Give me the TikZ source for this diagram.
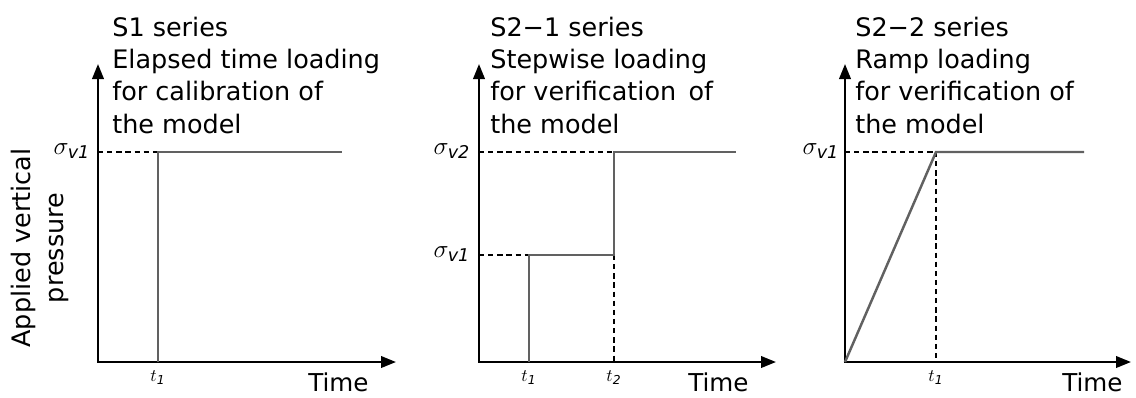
\documentclass[tikz,border=0pt]{standalone}
\usepackage{fontspec}
\setmainfont{DejaVu Sans}
\usetikzlibrary{arrows.meta}

\begin{document}
\begin{tikzpicture}[
    x=0.02cm, y=-0.02cm,
    axis/.style={
        {Triangle[length=3mm,width=2.3mm]}-{Triangle[length=3mm,width=2.3mm]},
        line width=1.3pt
    },
    load/.style={
        line width=1.4pt,
        draw=black!62
    },
    guide/.style={
        line width=1pt,
        dash pattern=on 3pt off 2.2pt
    },
    title/.style={
        anchor=base west,
        inner sep=0pt,
        align=left,
        font=\fontsize{14.5}{18.4}\selectfont
    },
    tick/.style={
        inner sep=0pt,
        font=\normalsize
    },
    level/.style={
        inner sep=0pt,
        font=\Large
    },
    time/.style={
        anchor=base west,
        inner sep=0pt,
        font=\fontsize{14}{16}\selectfont
    }
]

\useasboundingbox (0,0) rectangle (1136,397);

% Panel 1: S1 series
\coordinate (o1) at (98,362);
\coordinate (ytop1) at (98,64);
\coordinate (xend1) at (396,362);
\coordinate (a1) at (158,362);
\coordinate (b1) at (158,152);
\coordinate (c1) at (342,152);
\coordinate (d1) at (98,152);

\draw[axis] (ytop1) -- (o1) -- (xend1);
\draw[guide] (d1) -- (b1);
\draw[load] (a1) -- (b1) -- (c1);

\node[title] (head1) at (112,133) {S1 series\\Elapsed time loading\\for calibration of\\the model};
\node[level] (sig1) at (72,151) {$\sigma_{\mathit{v1}}$};
\node[tick] (t1) at (158,378) {$t_{\mathit{1}}$};
\node[time] (time1) at (308,391) {Time};
\node[rotate=90, align=center, inner sep=0pt,
      font=\fontsize{14.5}{19}\selectfont] (ylabel) at (40,248) {Applied vertical\\pressure};

% Panel 2: S2-1 series
\coordinate (o2) at (479,362);
\coordinate (ytop2) at (479,64);
\coordinate (xend2) at (776,362);
\coordinate (a2) at (529,362);
\coordinate (b2) at (529,255);
\coordinate (c2) at (614,255);
\coordinate (e2) at (614,152);
\coordinate (f2) at (736,152);
\coordinate (g2) at (614,362);
\coordinate (d2) at (479,255);
\coordinate (h2) at (479,152);

\draw[axis] (ytop2) -- (o2) -- (xend2);
\draw[guide] (d2) -- (b2);
\draw[guide] (h2) -- (e2);
\draw[guide] (c2) -- (g2);
\draw[load] (a2) -- (b2) -- (c2) -- (e2) -- (f2);

\node[title] (head2) at (490,133) {S2−1 series\\Stepwise loading\\for verification\ \,of\\the model};
\node[level] (sig2a) at (452,254) {$\sigma_{\mathit{v1}}$};
\node[level] (sig2b) at (452,151) {$\sigma_{\mathit{v2}}$};
\node[tick] (t2a) at (529,378) {$t_{\mathit{1}}$};
\node[tick] (t2b) at (614,378) {$t_{\mathit{2}}$};
\node[time] (time2) at (688,391) {Time};

% Panel 3: S2-2 series
\coordinate (o3) at (845,362);
\coordinate (ytop3) at (845,64);
\coordinate (xend3) at (1131,362);
\coordinate (b3) at (936,152);
\coordinate (c3) at (1084,152);
\coordinate (g3) at (936,362);
\coordinate (d3) at (845,152);

\draw[axis] (ytop3) -- (o3) -- (xend3);
\draw[guide] (d3) -- (b3);
\draw[guide] (b3) -- (g3);
\draw[load] (o3) -- (b3) -- (c3);

\node[title] (head3) at (855,133) {S2−2 series\\Ramp loading\\for verification of\\the model};
\node[level] (sig3) at (821,151) {$\sigma_{\mathit{v1}}$};
\node[tick] (t3) at (936,378) {$t_{\mathit{1}}$};
\node[time] (time3) at (1062,391) {Time};

\end{tikzpicture}
\end{document}
